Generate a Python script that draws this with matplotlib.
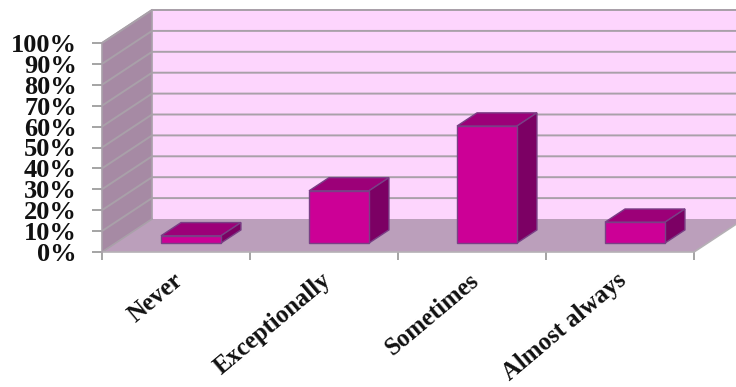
"""3D-look column chart drawn on a flat matplotlib axes"""
import matplotlib
matplotlib.use("Agg")
import matplotlib.pyplot as plt
from matplotlib.patches import Polygon

categories = ["Never", "Exceptionally", "Sometimes", "Almost always"]
values = [3.5, 25, 56, 10]
y_ticks = list(range(0, 101, 10))

# depth of one full floor, in data units
DEPTH_X = 50 / 148
DEPTH_Y = 33 / 2.09

plt.rcParams["font.family"] = ["Liberation Serif", "DejaVu Serif"]
plt.rcParams["font.weight"] = "bold"


def project(x, y, d):
    return (x + d * DEPTH_X, y + d * DEPTH_Y)


def face(ax, pts, color, edge="none", lw=0.0, z=1):
    ax.add_patch(Polygon(pts, closed=True, facecolor=color, edgecolor=edge,
                         linewidth=lw, zorder=z, clip_on=False))


def draw_bar(ax, center, value, width=0.405, d0=0.27, d1=0.67):
    x0, x1 = center - width / 2, center + width / 2
    edge = "#7a3f86"
    # top
    face(ax, [project(x0, value, d0), project(x1, value, d0),
              project(x1, value, d1), project(x0, value, d1)],
         "#9c0078", edge, 1.0, 5)
    # side
    face(ax, [project(x1, 0, d0), project(x1, 0, d1),
              project(x1, value, d1), project(x1, value, d0)],
         "#7c0064", edge, 1.0, 5)
    # front
    face(ax, [project(x0, 0, d0), project(x1, 0, d0),
              project(x1, value, d0), project(x0, value, d0)],
         "#cc0096", edge, 1.0, 6)


fig = plt.figure(figsize=(7.36, 3.87), dpi=100)
ax = fig.add_axes([102 / 736, (387 - 252) / 387, 592 / 736, 209 / 387])
n = len(categories)
ax.set_xlim(0, n)
ax.set_ylim(0, 100)
ax.patch.set_visible(False)
for s in ax.spines.values():
    s.set_visible(False)

# walls and floor; the back wall runs off the right edge of the figure
far = n + 0.5
face(ax, [project(0, 0, 1), project(far, 0, 1), project(far, 100, 1), project(0, 100, 1)], "#fdd5fd")
face(ax, [project(0, 0, 0), project(0, 0, 1), project(0, 100, 1), project(0, 100, 0)], "#a68aa4")
face(ax, [project(0, 0, 0), project(n, 0, 0), project(n, 0, 1), project(0, 0, 1)], "#bb9fbb")

grid = "#a9a0a9"
for t in y_ticks:
    xs, ys = zip(project(0, t, 0), project(0, t, 1), project(far, t, 1))
    if t == 0:
        # floor edge: no line across the front of the wall base
        ax.plot(xs[:2], ys[:2], color=grid, lw=1.2, zorder=2, clip_on=False)
        continue
    ax.plot(xs, ys, color=grid, lw=1.4, zorder=2, clip_on=False)
ax.plot([0, n, n + DEPTH_X], [0, 0, DEPTH_Y], color="#b5b0b5", lw=1.2, zorder=2, clip_on=False)
ax.plot([0, 0, DEPTH_X], [0, 100, 100 + DEPTH_Y], color=grid, lw=1.2, zorder=2, clip_on=False)
ax.plot([DEPTH_X, DEPTH_X], [DEPTH_Y, 100 + DEPTH_Y], color=grid, lw=1.2, zorder=2, clip_on=False)
ax.plot([DEPTH_X, far + DEPTH_X], [100 + DEPTH_Y] * 2, color=grid, lw=1.4, zorder=2, clip_on=False)

for i, v in enumerate(values):
    draw_bar(ax, i + 0.51, v)

ax.set_yticks(y_ticks)
ax.set_yticklabels([f"{t}%" for t in y_ticks], fontsize=19, color="#111111")
ax.set_xticks(range(n + 1))
ax.set_xticklabels([])
ax.tick_params(axis="y", color="#8c8c8c", width=1.1, length=7, pad=11)
ax.tick_params(axis="x", color="#8c8c8c", width=1.1, length=6)

for i, cat in enumerate(categories):
    ax.annotate(cat, xy=(i + 0.475, 0), xycoords="data", xytext=(0, -12),
                textcoords="offset points", rotation=40, ha="right", va="top",
                rotation_mode="anchor", fontsize=17.8, color="#111111")

fig.savefig("out.png", dpi=100)
plt.close(fig)
